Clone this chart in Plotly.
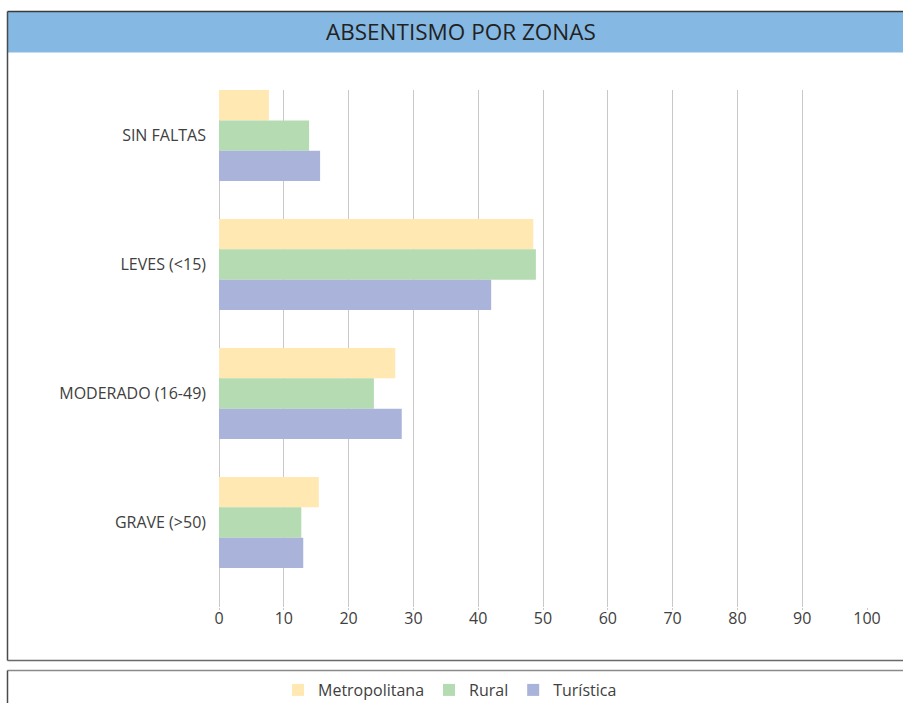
import plotly.graph_objects as go

categories = ["SIN FALTAS", "LEVES (<15)", "MODERADO (16-49)", "GRAVE (>50)"]
series_names = ["Metropolitana", "Rural", "Turística"]
metropolitana = [7.7, 48.5, 27.2, 15.4]
rural = [13.9, 48.9, 23.9, 12.7]
turistica = [15.6, 42.0, 28.2, 13.0]
x_ticks = [0, 10, 20, 30, 40, 50, 60, 70, 80, 90, 100]
title_text = "ABSENTISMO POR ZONAS"

colors = ["#FFE8B2", "#B4DBB2", "#AAB3D9"]
W, H = 903, 703
FONT = "Open Sans, Noto Sans, sans-serif"


def px_y(p):
    return 1 - p / H


def px_x(p):
    return p / W


fig = go.Figure()
for name, vals, col in zip(series_names, [metropolitana, rural, turistica], colors):
    fig.add_trace(go.Bar(
        y=categories, x=vals, name=name, orientation="h",
        marker=dict(color=col, line=dict(width=0)),
        hoverinfo="x+name",
    ))

shapes = [
    dict(type="rect", xref="paper", yref="paper", x0=px_x(7.5), x1=1.0,
         y0=px_y(52.5), y1=px_y(11.5), fillcolor="#85B9E3", line=dict(width=0), layer="below"),
    dict(type="line", xref="paper", yref="paper", x0=px_x(7.5), x1=1.0,
         y0=px_y(11.5), y1=px_y(11.5), line=dict(color="#3a3a3a", width=1.5)),
    dict(type="line", xref="paper", yref="paper", x0=px_x(7.5), x1=px_x(7.5),
         y0=px_y(11.5), y1=px_y(660.5), line=dict(color="#4a4a4a", width=1.5)),
    dict(type="line", xref="paper", yref="paper", x0=px_x(7.5), x1=1.0,
         y0=px_y(660.5), y1=px_y(660.5), line=dict(color="#6a6a6a", width=1.5)),
    dict(type="line", xref="paper", yref="paper", x0=px_x(7.5), x1=1.0,
         y0=px_y(670.5), y1=px_y(670.5), line=dict(color="#8a8a8a", width=1.5)),
    dict(type="line", xref="paper", yref="paper", x0=px_x(7.5), x1=px_x(7.5),
         y0=px_y(670.5), y1=0.0, line=dict(color="#4a4a4a", width=1.5)),
]

fig.update_layout(
    width=W, height=H,
    margin=dict(l=0, r=0, t=0, b=0, pad=0, autoexpand=False),
    paper_bgcolor="white", plot_bgcolor="white",
    barmode="group", bargap=0.295, bargroupgap=0,
    font=dict(family=FONT, size=16, color="#404040"),
    shapes=shapes,
    annotations=[dict(text=title_text, xref="paper", yref="paper",
                      x=px_x(461), y=px_y(32), xanchor="center", yanchor="middle",
                      showarrow=False, font=dict(family=FONT, size=22.5, color="#222222"))],
    xaxis=dict(domain=[px_x(219), px_x(867)], range=[0, 100], tickvals=x_ticks,
               automargin=False,
               showgrid=True, gridcolor="#C8C8C8", gridwidth=1,
               zeroline=True, zerolinecolor="#C8C8C8", zerolinewidth=1,
               showline=False, ticks="outside", ticklen=2, tickcolor="#C8C8C8",
               ticklabelstandoff=-5,
               tickfont=dict(size=16, color="#404040"), fixedrange=True),
    yaxis=dict(domain=[px_y(607), px_y(90)], type="category",
               categoryorder="array", categoryarray=categories, automargin=False,
               range=[3.655, -0.353], showgrid=False, zeroline=False, showline=False,
               ticks="", ticklabelstandoff=12,
               tickfont=dict(size=16, color="#404040"), fixedrange=True),
    legend=dict(orientation="h", x=px_x(450), y=px_y(690), xanchor="center", yanchor="middle",
                font=dict(size=16, color="#404040"), bgcolor="rgba(0,0,0,0)",
                traceorder="normal", itemwidth=30, tracegroupgap=0),
    showlegend=True,
)

fig.write_html(
    "out.html",
    config={"displayModeBar": False, "responsive": False},
    post_script="document.body.style.margin='0';document.body.style.padding='0';"
                "document.documentElement.style.overflow='hidden';document.body.style.overflow='hidden';",
)
